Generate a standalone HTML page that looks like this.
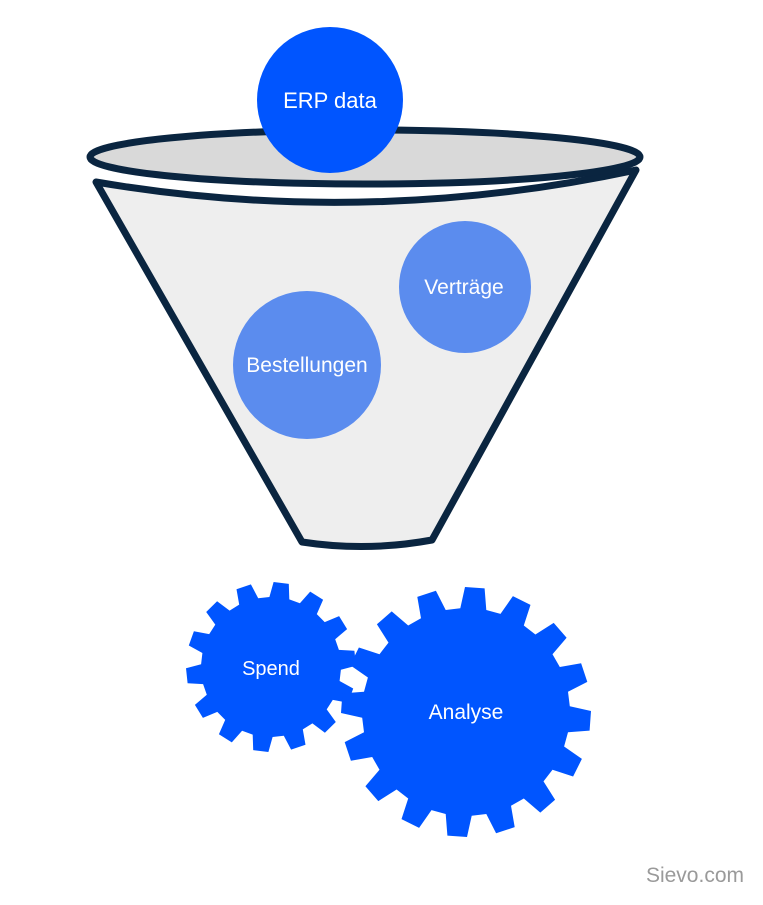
<!DOCTYPE html>
<html><head><meta charset="utf-8"><style>
html,body{margin:0;padding:0;background:#fff;}
svg{display:block;}
text{font-family:"Liberation Sans",sans-serif;fill:#fff;}
</style></head><body>
<svg id="s" width="763" height="905" viewBox="0 0 763 905" xmlns="http://www.w3.org/2000/svg">
<path d="M96,182 Q365,228 636,170 L432,540 Q367,552 302,542 Z" fill="#eeeeee" stroke="#0a2540" stroke-width="7" stroke-linejoin="round"/>
<ellipse cx="365" cy="157" rx="275" ry="27" fill="#d9d9d9" stroke="#0a2540" stroke-width="7"/>
<circle cx="330" cy="100" r="73" fill="#0055ff"/>
<text x="330" y="108" font-size="22" text-anchor="middle">ERP data</text>
<circle cx="465" cy="287" r="66" fill="#5b8cee"/>
<text x="464" y="294" font-size="21" text-anchor="middle">Verträge</text>
<circle cx="307" cy="365" r="74" fill="#5b8cee"/>
<text x="307" y="372" font-size="21" text-anchor="middle">Bestellungen</text>
<polygon id="g1" fill="#0055ff"/>
<polygon id="g2" fill="#0055ff"/>
<text x="271" y="675" font-size="20" text-anchor="middle">Spend</text>
<text x="466" y="719" font-size="21" text-anchor="middle">Analyse</text>
<text x="744" y="882" font-size="21" text-anchor="end" style="fill:#9a9a9a">Sievo.com</text>
</svg>
<script>
function gear(id,cx,cy,ro,ri,n,rot){
 var p=[],st=2*Math.PI/n;
 for(var i=0;i<n;i++){
  var a=rot+i*st;
  var pts=[[ri,a-st*0.32],[ro,a-st*0.2],[ro,a+st*0.2],[ri,a+st*0.32]];
  pts.forEach(function(q){p.push((cx+q[0]*Math.cos(q[1])).toFixed(1)+","+(cy+q[0]*Math.sin(q[1])).toFixed(1));});
 }
 document.getElementById(id).setAttribute("points",p.join(" "));
}
gear("g1",271,667,85,70,14,-1.45);
gear("g2",466,712,125,104,16,-1.5);
</script>
</body></html>
